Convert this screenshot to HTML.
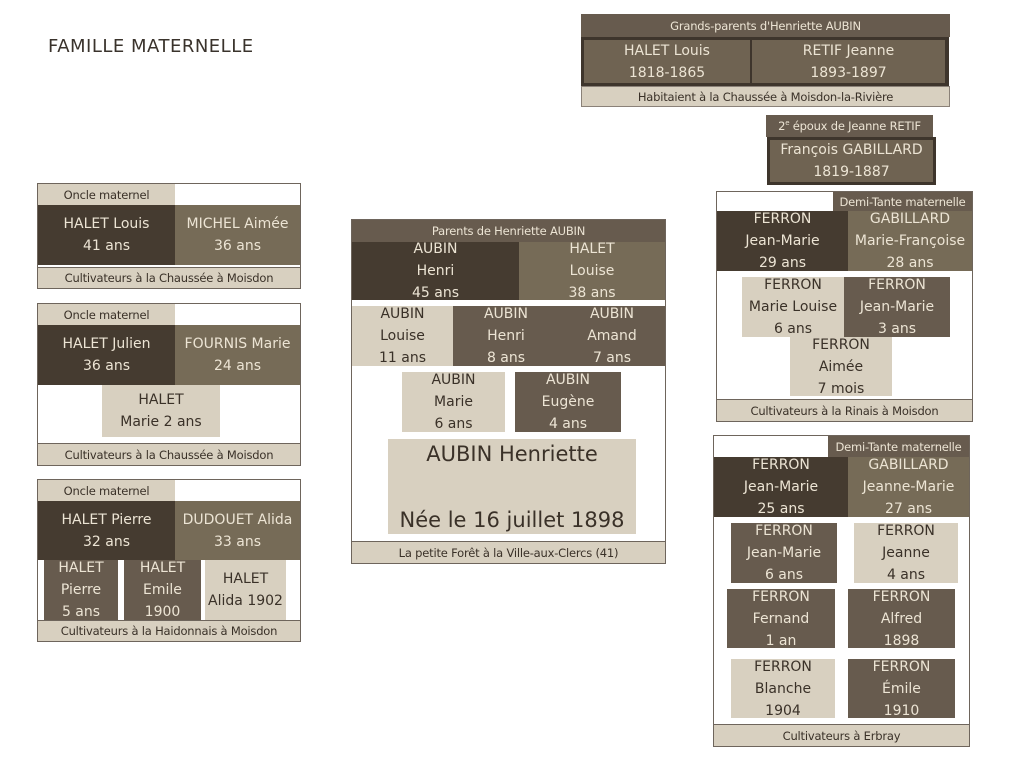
<!DOCTYPE html>
<html><head><meta charset="utf-8"><style>
body{margin:0;width:1023px;height:768px;background:#fff;position:relative;overflow:hidden;font-family:"DejaVu Sans","Liberation Sans",sans-serif;}
.a{position:absolute;box-sizing:border-box;display:flex;flex-direction:column;justify-content:center;align-items:center;text-align:center;white-space:nowrap;overflow:hidden}
.fr{position:absolute;box-sizing:border-box;border:1px solid #6e655c;background:#fff}
.d{background:#453b30;color:#ece4d4}
.m{background:#766b57;color:#ece4d4}
.b{background:#675b4e;color:#ece4d4}
.l{background:#d8d0c0;color:#3a3128}
.n{font-size:14px;line-height:22px}
.s{font-size:11.5px;letter-spacing:-0.2px}
.ft{border-top:1px solid #6e655c}
</style></head><body>
<div style="position:absolute;left:48px;top:36px;font-size:18px;color:#3a332c;letter-spacing:0.5px">FAMILLE MATERNELLE</div>

<!-- grandparents -->
<div class="a b s" style="left:581px;top:14px;width:369px;height:23px">Grands-parents d'Henriette AUBIN</div>
<div class="a" style="left:581px;top:37px;width:368px;height:49px;background:#3e352c"></div>
<div class="a n" style="left:584px;top:40px;width:166px;height:43px;background:#6f6352;color:#ece4d4">HALET Louis<br>1818-1865</div>
<div class="a n" style="left:752px;top:40px;width:193px;height:43px;background:#6f6352;color:#ece4d4">RETIF Jeanne<br>1893-1897</div>
<div class="a l s" style="left:581px;top:86px;width:369px;height:21px;border:1px solid #8a8178">Habitaient à la Chaussée à Moisdon-la-Rivière</div>

<div class="a b s" style="left:766px;top:115px;width:167px;height:22px"><span>2<sup style="font-size:7px">e</sup> époux de Jeanne RETIF</span></div>
<div class="a n" style="left:767px;top:137px;width:169px;height:48px;background:#6f6352;color:#ece4d4;border:3px solid #3e352c">François GABILLARD<br>1819-1887</div>

<!-- left box 1 -->
<div class="fr" style="left:37px;top:183px;width:264px;height:106px"></div>
<div class="a l s" style="left:38px;top:184px;width:137px;height:21px">Oncle maternel</div>
<div class="a d n" style="left:38px;top:205px;width:137px;height:60px">HALET Louis<br>41 ans</div>
<div class="a m n" style="left:175px;top:205px;width:125px;height:60px">MICHEL Aimée<br>36 ans</div>
<div class="a l s ft" style="left:38px;top:267px;width:262px;height:21px">Cultivateurs à la Chaussée à Moisdon</div>

<!-- left box 2 -->
<div class="fr" style="left:37px;top:303px;width:264px;height:163px"></div>
<div class="a l s" style="left:38px;top:304px;width:137px;height:21px">Oncle maternel</div>
<div class="a d n" style="left:38px;top:325px;width:137px;height:60px">HALET Julien<br>36 ans</div>
<div class="a m n" style="left:175px;top:325px;width:125px;height:60px">FOURNIS Marie<br>24 ans</div>
<div class="a l n" style="left:102px;top:385px;width:118px;height:52px">HALET<br>Marie 2 ans</div>
<div class="a l s ft" style="left:38px;top:443px;width:262px;height:22px">Cultivateurs à la Chaussée à Moisdon</div>

<!-- left box 3 -->
<div class="fr" style="left:37px;top:479px;width:264px;height:163px"></div>
<div class="a l s" style="left:38px;top:480px;width:137px;height:21px">Oncle maternel</div>
<div class="a d n" style="left:38px;top:501px;width:137px;height:59px">HALET Pierre<br>32 ans</div>
<div class="a m n" style="left:175px;top:501px;width:125px;height:59px">DUDOUET Alida<br>33 ans</div>
<div class="a b n" style="left:44px;top:560px;width:74px;height:60px">HALET<br>Pierre<br>5 ans</div>
<div class="a b n" style="left:124px;top:560px;width:77px;height:60px">HALET<br>Emile<br>1900</div>
<div class="a l n" style="left:205px;top:560px;width:81px;height:60px">HALET<br>Alida 1902</div>
<div class="a l s ft" style="left:38px;top:620px;width:262px;height:21px">Cultivateurs à la Haidonnais à Moisdon</div>

<!-- center -->
<div class="fr" style="left:351px;top:219px;width:315px;height:345px"></div>
<div class="a b s" style="left:352px;top:220px;width:313px;height:22px">Parents de Henriette AUBIN</div>
<div class="a d n" style="left:352px;top:242px;width:167px;height:58px">AUBIN<br>Henri<br>45 ans</div>
<div class="a m n" style="left:519px;top:242px;width:146px;height:58px">HALET<br>Louise<br>38 ans</div>
<div class="a l n" style="left:352px;top:306px;width:101px;height:60px">AUBIN<br>Louise<br>11 ans</div>
<div class="a b" style="left:453px;top:306px;width:212px;height:60px"></div>
<div class="a n" style="left:453px;top:306px;width:106px;height:60px;color:#ece4d4">AUBIN<br>Henri<br>8 ans</div>
<div class="a n" style="left:559px;top:306px;width:106px;height:60px;color:#ece4d4">AUBIN<br>Amand<br>7 ans</div>
<div class="a l n" style="left:402px;top:372px;width:103px;height:60px">AUBIN<br>Marie<br>6 ans</div>
<div class="a b n" style="left:515px;top:372px;width:106px;height:60px">AUBIN<br>Eugène<br>4 ans</div>
<div class="a l" style="left:388px;top:439px;width:248px;height:95px;font-size:21px;justify-content:space-between;padding:3px 0 2px">
<div>AUBIN Henriette</div><div>Née le 16 juillet 1898</div></div>
<div class="a l s ft" style="left:352px;top:541px;width:313px;height:22px">La petite Forêt à la Ville-aux-Clercs (41)</div>

<!-- right box 1 -->
<div class="fr" style="left:716px;top:191px;width:257px;height:231px"></div>
<div class="a b s" style="left:833px;top:192px;width:139px;height:19px">Demi-Tante maternelle</div>
<div class="a d n" style="left:717px;top:211px;width:131px;height:60px">FERRON<br>Jean-Marie<br>29 ans</div>
<div class="a m n" style="left:848px;top:211px;width:124px;height:60px">GABILLARD<br>Marie-Françoise<br>28 ans</div>
<div class="a l n" style="left:742px;top:277px;width:102px;height:60px">FERRON<br>Marie Louise<br>6 ans</div>
<div class="a b n" style="left:844px;top:277px;width:106px;height:60px">FERRON<br>Jean-Marie<br>3 ans</div>
<div class="a l n" style="left:790px;top:337px;width:102px;height:59px">FERRON<br>Aimée<br>7 mois</div>
<div class="a l s ft" style="left:717px;top:399px;width:255px;height:22px">Cultivateurs à la Rinais à Moisdon</div>

<!-- right box 2 -->
<div class="fr" style="left:713px;top:435px;width:257px;height:312px"></div>
<div class="a b s" style="left:828px;top:436px;width:141px;height:21px">Demi-Tante maternelle</div>
<div class="a d n" style="left:714px;top:457px;width:134px;height:60px">FERRON<br>Jean-Marie<br>25 ans</div>
<div class="a m n" style="left:848px;top:457px;width:121px;height:60px">GABILLARD<br>Jeanne-Marie<br>27 ans</div>
<div class="a b n" style="left:731px;top:523px;width:106px;height:60px">FERRON<br>Jean-Marie<br>6 ans</div>
<div class="a l n" style="left:854px;top:523px;width:104px;height:60px">FERRON<br>Jeanne<br>4 ans</div>
<div class="a b n" style="left:727px;top:589px;width:108px;height:59px">FERRON<br>Fernand<br>1 an</div>
<div class="a b n" style="left:848px;top:589px;width:107px;height:59px">FERRON<br>Alfred<br>1898</div>
<div class="a l n" style="left:731px;top:659px;width:104px;height:59px">FERRON<br>Blanche<br>1904</div>
<div class="a b n" style="left:848px;top:659px;width:107px;height:59px">FERRON<br>Émile<br>1910</div>
<div class="a l s ft" style="left:714px;top:724px;width:255px;height:22px">Cultivateurs à Erbray</div>
</body></html>
